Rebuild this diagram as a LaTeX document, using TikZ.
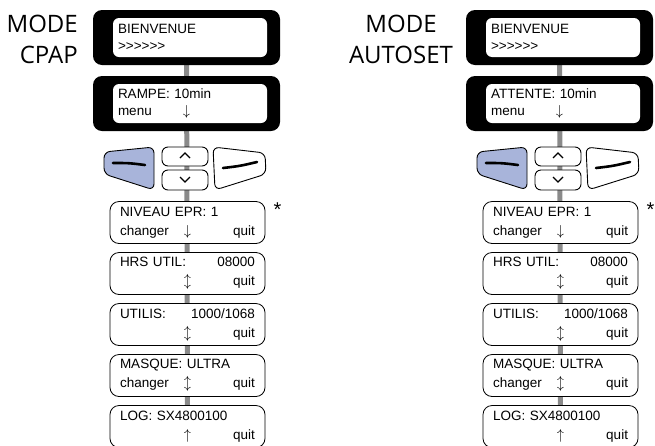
\documentclass[tikz,border=0pt]{standalone}
\usepackage{fontspec}
\newfontfamily\lcdfont{Liberation Sans}
\newfontfamily\modefont{Open Sans}
\usepackage{tikz}
\usetikzlibrary{positioning,backgrounds}

\definecolor{keyblue}{RGB}{168,180,218}
\definecolor{spinegray}{RGB}{138,138,138}

\newcommand{\lcdrow}[3]{\leavevmode\rlap{#1}\hskip 0pt plus 1fill\relax #2\hskip 0pt plus 1fill\relax\llap{#3}}
\newcommand{\lcdpair}[2]{\leavevmode#1\hskip 0pt plus 1fill\relax #2}

\tikzset{
  keypad/.pic={
    \draw[keyline, fill=keyblue] (-81,-16) -- (-31,-21) -- (-31,22) -- (-81,6) -- cycle;
    \draw[keydash] (-72,-5) .. controls (-56,-5) .. (-40,-3);
    \draw[keyline, fill=white] (-23,-21) rectangle (23,-2);
    \draw[keyline, fill=white] (-23,2) rectangle (23,22);
    \draw[chevron] (-5,-10) -- (0,-15) -- (5,-10);
    \draw[chevron] (-5,9) -- (0,14) -- (5,9);
    \draw[keyline, fill=white] (28,-21) -- (80,-15) -- (81,6) -- (30,22) -- cycle;
    \draw[keydash] (38,0) .. controls (55,-2) .. (72,-6);
  }
}

\begin{document}
\begin{tikzpicture}[x=1pt, y=-1pt, node distance=51pt,
  screen/.style={fill=black, rounded corners=9pt, minimum width=187pt,
    minimum height=55pt, text width=137pt, inner sep=0pt, align=left,
    font=\lcdfont\fontsize{13.5}{17}\selectfont,
    path picture={\fill[white, rounded corners=6pt]
      ([xshift=20pt,yshift=-8pt]path picture bounding box.north west) rectangle
      ([xshift=-13pt,yshift=8pt]path picture bounding box.south east);}},
  menubox/.style={draw, line width=0.8pt, fill=white, rounded corners=9pt,
    minimum width=155pt, minimum height=42pt, text width=135pt, inner sep=0pt,
    align=left, font=\lcdfont\fontsize{13.5}{19}\selectfont},
  modelabel/.style={font=\modefont\fontsize{24}{31}\selectfont, inner sep=0pt},
  note/.style={font=\lcdfont\fontsize{20}{20}\selectfont, inner sep=0pt},
  spine/.style={draw=spinegray, line width=5pt},
  keyline/.style={draw=black, line width=0.9pt, rounded corners=6pt},
  keydash/.style={line width=2.6pt, line cap=round},
  chevron/.style={line width=1.2pt}]
  \useasboundingbox (0,0) rectangle (655,445);

  % CPAP
  \node[modelabel, align=right, anchor=north east] (modeL) at (78,15) {MODE\\CPAP};
  \node[screen]  (welL)  at (186.5,37.5)                   {BIENVENUE\\>>>>>>};
  \node[screen]  (rampL) [below of=welL, node distance=66pt] {RAMPE: 10min\\\lcdrow{menu}{$\downarrow$}{}};
  \pic (keysL) at (185,168) {keypad};
  \node[menubox] (eprL)  at (187.5,222.5)  {NIVEAU EPR: 1\\\lcdrow{changer}{$\downarrow$}{quit}};
  \node[menubox] (hrsL)  [below of=eprL]   {\lcdpair{HRS UTIL:}{08000}\\\lcdrow{}{$\updownarrow$}{quit}};
  \node[menubox] (useL)  [below of=hrsL]   {\lcdpair{UTILIS:}{1000/1068}\\\lcdrow{}{$\updownarrow$}{quit}};
  \node[menubox] (maskL) [below of=useL]   {MASQUE: ULTRA\\\lcdrow{changer}{$\updownarrow$}{quit}};
  \node[menubox] (logL)  [below of=maskL]  {LOG: SX4800100\\\lcdrow{}{$\uparrow$}{quit}};
  \node[note] (starL) at ([xshift=12pt,yshift=-9pt]eprL.north east) {*};

  % AUTOSET
  \node[modelabel, align=center, anchor=north] (modeR) at (401,15) {MODE\\AUTOSET};
  \node[screen]  (welR)  at (559.5,37.5)                   {BIENVENUE\\>>>>>>};
  \node[screen]  (rampR) [below of=welR, node distance=66pt] {ATTENTE: 10min\\\lcdrow{menu}{$\downarrow$}{}};
  \pic (keysR) at (558,168) {keypad};
  \node[menubox] (eprR)  at (560.5,222.5)  {NIVEAU EPR: 1\\\lcdrow{changer}{$\downarrow$}{quit}};
  \node[menubox] (hrsR)  [below of=eprR]   {\lcdpair{HRS UTIL:}{08000}\\\lcdrow{}{$\updownarrow$}{quit}};
  \node[menubox] (useR)  [below of=hrsR]   {\lcdpair{UTILIS:}{1000/1068}\\\lcdrow{}{$\updownarrow$}{quit}};
  \node[menubox] (maskR) [below of=useR]   {MASQUE: ULTRA\\\lcdrow{changer}{$\updownarrow$}{quit}};
  \node[menubox] (logR)  [below of=maskR]  {LOG: SX4800100\\\lcdrow{}{$\uparrow$}{quit}};
  \node[note] (starR) at ([xshift=12pt,yshift=-9pt]eprR.north east) {*};

  \begin{scope}[on background layer]
    \draw[spine] (welL) -- (logL);
    \draw[spine] (welR) -- (logR);
  \end{scope}
\end{tikzpicture}
\end{document}
